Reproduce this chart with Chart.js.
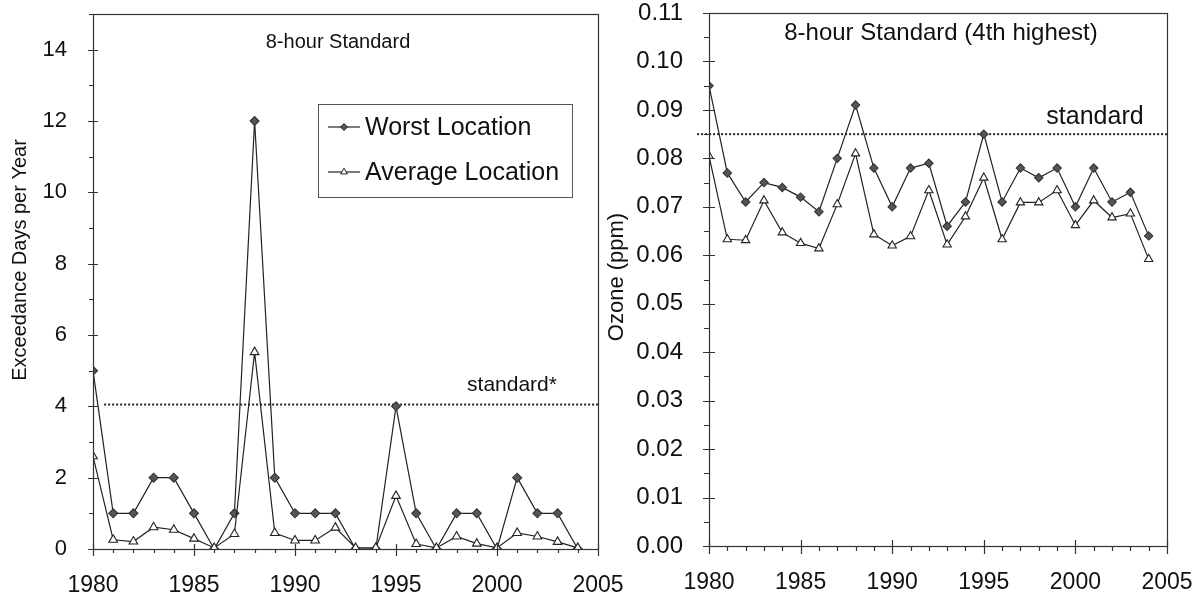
<!DOCTYPE html>
<html>
<head>
<meta charset="utf-8">
<script src="https://cdn.jsdelivr.net/npm/chart.js@4.4.1/dist/chart.umd.min.js"></script>
<style>
  html, body { margin: 0; padding: 0; background: #fff; }
  body { width: 1196px; height: 597px; position: relative; overflow: hidden; }
  .wrap { position: absolute; top: 0; height: 597px; }
  #wl { left: 0; width: 640px; }
  #wr { left: 600px; width: 596px; }
</style>
</head>
<body>
<div class="wrap" id="wl"><canvas id="cl"></canvas></div>
<div class="wrap" id="wr"><canvas id="cr"></canvas></div>
<script>
// ---- data ----
const years = [1980, 1981, 1982, 1983, 1984, 1985, 1986, 1987, 1988, 1989, 1990, 1991, 1992,
               1993, 1994, 1995, 1996, 1997, 1998, 1999, 2000, 2001, 2002, 2003, 2004];

// left panel: exceedance days per year
const worstDays = [5, 1, 1, 2, 2, 1, 0, 1, 12, 2, 1, 1, 1, 0, 0, 4, 1, 0, 1, 1, 0, 2, 1, 1, 0];
const avgDays   = [2.6, 0.26, 0.21, 0.61, 0.54, 0.29, 0.03, 0.42, 5.52, 0.45, 0.24, 0.24, 0.6,
                   0.03, 0.03, 1.49, 0.14, 0.03, 0.35, 0.15, 0.03, 0.45, 0.35, 0.2, 0.03];

// right panel: 4th highest 8-hour ozone (ppm)
const worstOzone = [0.095, 0.077, 0.071, 0.075, 0.074, 0.072, 0.069, 0.080, 0.091, 0.078, 0.070, 0.078, 0.079,
                    0.066, 0.071, 0.085, 0.071, 0.078, 0.076, 0.078, 0.070, 0.078, 0.071, 0.073, 0.064];
const avgOzone   = [0.0805, 0.0633, 0.0631, 0.0713, 0.0647, 0.0625, 0.0614, 0.0705, 0.081, 0.0643, 0.062, 0.0639, 0.0734,
                    0.0622, 0.068, 0.076, 0.0633, 0.0709, 0.0709, 0.0734, 0.0662, 0.0713, 0.0678, 0.0686, 0.0592];

// standard lines (level, start year, end year)
const daysStdLevel = 4.05;
const daysStdSpan = [1980.55, 2005];
const ozoneStdLevel = 0.085;
const ozoneStdSpan = [1979.35, 2005];

// tick labels
const yearTicks = [1980, 1985, 1990, 1995, 2000, 2005];
const dayTicks = [0, 2, 4, 6, 8, 10, 12, 14];
const ozoneTicks = [0, 0.01, 0.02, 0.03, 0.04, 0.05, 0.06, 0.07, 0.08, 0.09, 0.10, 0.11];

const FONT = '"Liberation Sans", Arial, sans-serif';
const INK = "#111";
Chart.defaults.font.family = FONT;
Chart.defaults.color = INK;

const pts = (ys) => years.map((x, i) => ({ x, y: ys[i] }));
const span = (xs, lvl) => xs.map((x) => ({ x, y: lvl }));

// box round the plot + major/minor tick marks, drawn from the scales
const frame = {
  id: "frame",
  afterDatasetsDraw(chart, args, o) {
    const { ctx, chartArea: a, scales } = chart;
    ctx.save();
    ctx.strokeStyle = "#333";
    ctx.lineWidth = 1.2;
    ctx.strokeRect(Math.round(a.left) + 0.5, Math.round(a.top) + 0.5,
                   Math.round(a.right - a.left), Math.round(a.bottom - a.top));
    const near = (v, m) => Math.abs(v / m - Math.round(v / m)) < 1e-6;
    ctx.beginPath();
    const xs = scales.x;
    for (let v = xs.min; v <= xs.max + 1e-9; v += o.xMinor) {
      const px = Math.round(xs.getPixelForValue(v)) + 0.5;
      if (near(v, o.xMajor)) {
        ctx.moveTo(px, a.bottom - o.majIn);
        ctx.lineTo(px, a.bottom + o.majOut + 2);
      } else {
        ctx.moveTo(px, a.bottom);
        ctx.lineTo(px, a.bottom + o.minOut);
      }
    }
    const ys = scales.y;
    for (let k = 0; k * o.yMinor <= ys.max + 1e-9; k++) {
      const v = k * o.yMinor;
      const py = Math.round(ys.getPixelForValue(v)) + 0.5;
      if (near(v, o.yMajor)) {
        ctx.moveTo(a.left - o.majOut, py);
        ctx.lineTo(a.left + o.majIn, py);
      } else {
        ctx.moveTo(a.left - o.minOut, py);
        ctx.lineTo(a.left, py);
      }
    }
    ctx.stroke();
    ctx.restore();
  },
};

// free text: panel titles, axis titles, "standard" labels
const notes = {
  id: "notes",
  afterDraw(chart, args, o) {
    const { ctx } = chart;
    (o.items || []).forEach((t) => {
      ctx.save();
      ctx.font = `${t.size}px ${FONT}`;
      ctx.fillStyle = INK;
      ctx.textAlign = "center";
      ctx.textBaseline = "middle";
      ctx.translate(t.x, t.y);
      if (t.rot) ctx.rotate(t.rot);
      ctx.fillText(t.text, 0, 0);
      ctx.restore();
    });
  },
};

// boxed legend inside the left panel
const legendBox = {
  id: "legendBox",
  afterDraw(chart, args, o) {
    if (!o.box) return;
    const { ctx } = chart;
    const b = o.box;
    ctx.save();
    ctx.fillStyle = "#fff";
    ctx.fillRect(b.x, b.y, b.w, b.h);
    ctx.strokeStyle = "#555";
    ctx.lineWidth = 1;
    ctx.strokeRect(b.x + 0.5, b.y + 0.5, b.w, b.h);
    chart.data.datasets.filter((d) => d.inLegend).forEach((d, i) => {
      const y = b.y + o.rowTop + i * o.rowGap;
      ctx.strokeStyle = "#222";
      ctx.lineWidth = 1.2;
      ctx.beginPath();
      ctx.moveTo(b.x + 10, y);
      ctx.lineTo(b.x + 42, y);
      ctx.stroke();
      const cx = b.x + 26;
      ctx.beginPath();
      if (d.pointStyle === "rectRot") {
        const r = 3.5;
        ctx.moveTo(cx, y - r); ctx.lineTo(cx + r, y); ctx.lineTo(cx, y + r); ctx.lineTo(cx - r, y);
      } else {
        const r = 3.8;
        ctx.moveTo(cx, y - r); ctx.lineTo(cx + r * 0.87, y + r * 0.5); ctx.lineTo(cx - r * 0.87, y + r * 0.5);
      }
      ctx.closePath();
      ctx.fillStyle = d.pointBackgroundColor;
      ctx.fill();
      ctx.lineWidth = 1;
      ctx.stroke();
      ctx.font = `25px ${FONT}`;
      ctx.fillStyle = INK;
      ctx.textAlign = "left";
      ctx.textBaseline = "middle";
      ctx.fillText(d.label, b.x + 47, y + 1);
    });
    ctx.restore();
  },
};

function series(label, data, style, order, r) {
  const tri = style === "triangle";
  return {
    label, data, order, inLegend: true,
    borderColor: "#222", borderWidth: 1.2,
    pointStyle: style, pointRadius: r,
    pointBackgroundColor: tri ? "#fff" : "#555",
    pointBorderColor: tri ? "#222" : "#333",
    pointBorderWidth: 1.1,
    tension: 0,
  };
}

function stdLine(data) {
  return {
    label: "standard", data, order: 3, clip: false,
    borderColor: "#222", borderWidth: 2, borderDash: [2, 2],
    pointRadius: 0, tension: 0,
  };
}

function makeChart(id, c) {
  return new Chart(document.getElementById(id), {
    type: "line",
    data: { datasets: c.datasets },
    options: {
      responsive: true,
      maintainAspectRatio: false,
      animation: false,
      events: [],
      layout: { padding: c.pad },
      plugins: {
        legend: { display: false },
        tooltip: { enabled: false },
        frame: c.frame,
        notes: { items: c.notes },
        legendBox: c.legend || {},
      },
      scales: {
        x: {
          type: "linear", min: 1980, max: 2005,
          grid: { display: false }, border: { display: false },
          afterBuildTicks: (s) => { s.ticks = yearTicks.map((v) => ({ value: v })); },
          afterFit: (s) => { s.height = c.xH; s.paddingLeft = 0; s.paddingRight = 0; },
          ticks: { padding: c.xPad, maxRotation: 0, autoSkip: false,
                   font: { size: c.xFont, lineHeight: 1.2 }, color: INK,
                   callback: (v) => String(v) },
        },
        y: {
          min: 0, max: c.yMax,
          grid: { display: false }, border: { display: false },
          afterBuildTicks: (s) => { s.ticks = c.yTicks.map((v) => ({ value: v })); },
          afterFit: (s) => { s.width = c.yW; s.paddingTop = 0; s.paddingBottom = 0; },
          ticks: { padding: c.yPad, font: { size: c.yFont, lineHeight: 1 }, color: INK,
                   callback: c.yFmt },
        },
      },
    },
    plugins: [frame, notes, legendBox],
  });
}

const left = makeChart("cl", {
  datasets: [
    series("Worst Location", pts(worstDays), "rectRot", 1, 4.5),
    series("Average Location", pts(avgDays), "triangle", 0, 5),
    stdLine(span(daysStdSpan, daysStdLevel)),
  ],
  pad: { left: 0, right: 42, top: 14, bottom: 0 },
  xH: 48, yW: 93, yMax: 15, yTicks: dayTicks,
  xFont: 23, yFont: 22, xPad: 15, yPad: 18,
  yFmt: (v) => String(v),
  frame: { xMinor: 1, xMajor: 5, yMinor: 1, yMajor: 2, majIn: 5, majOut: 5, minOut: 4 },
  notes: [
    { text: "8-hour Standard", x: 338, y: 42, size: 20 },
    { text: "standard*", x: 512, y: 385, size: 21 },
    { text: "Exceedance Days per Year", x: 20, y: 260, size: 20, rot: -Math.PI / 2 },
  ],
  legend: { box: { x: 318, y: 104, w: 254, h: 93 }, rowTop: 23, rowGap: 45 },
});

const right = makeChart("cr", {
  datasets: [
    series("Worst Location", pts(worstOzone), "rectRot", 1, 4.2),
    series("Average Location", pts(avgOzone), "triangle", 0, 4.8),
    stdLine(span(ozoneStdSpan, ozoneStdLevel)),
  ],
  pad: { left: 0, right: 29, top: 13, bottom: 0 },
  xH: 51, yW: 109, yMax: 0.11, yTicks: ozoneTicks,
  xFont: 23, yFont: 24, xPad: 15, yPad: 18,
  yFmt: (v) => v.toFixed(2),
  frame: { xMinor: 1, xMajor: 5, yMinor: 0.005, yMajor: 0.01, majIn: 6, majOut: 6, minOut: 5 },
  notes: [
    { text: "8-hour Standard (4th highest)", x: 341, y: 33, size: 24 },
    { text: "standard", x: 495, y: 117, size: 25 },
    { text: "Ozone (ppm)", x: 17, y: 277, size: 22, rot: -Math.PI / 2 },
  ],
});
</script>
</body>
</html>
